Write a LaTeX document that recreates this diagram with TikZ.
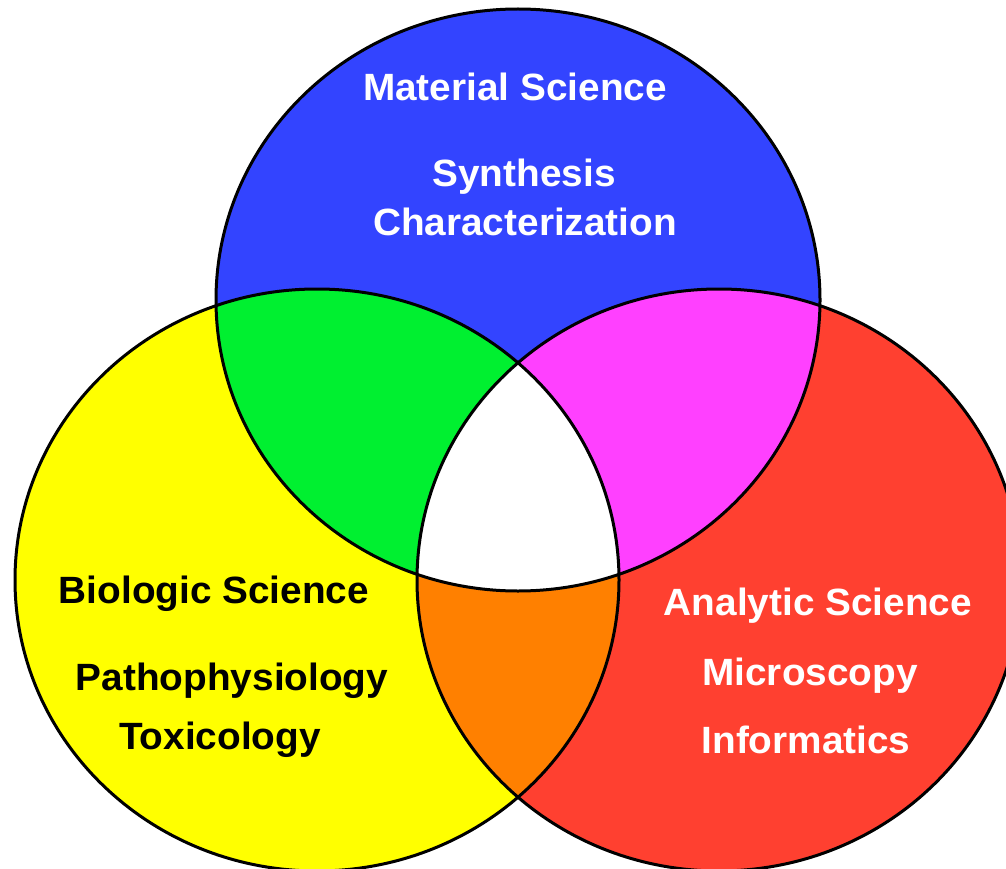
\documentclass[tikz,border=0pt]{standalone}
\usepackage{fontspec}
\setmainfont{Liberation Sans}
\definecolor{cblue}{RGB}{51,68,255}
\definecolor{cyellow}{RGB}{255,255,0}
\definecolor{cred}{RGB}{255,64,48}
\definecolor{cgreen}{RGB}{0,240,48}
\definecolor{cmagenta}{RGB}{255,64,255}
\definecolor{corange}{RGB}{255,128,0}
\tikzset{
  lbl/.style={anchor=base, inner sep=0pt, font=\fontsize{38}{40}\selectfont\bfseries, xscale=1.02},
  wlbl/.style={lbl, text=white},
  klbl/.style={lbl, text=black},
  rim/.style={draw=black, line width=3pt},
}
\begin{document}
\begin{tikzpicture}[x=1pt,y=-1pt]
\useasboundingbox (0,0) rectangle (1006,869);
\clip (0,0) rectangle (1006,869);
\coordinate (cT) at (518,300);
\coordinate (cL) at (317,580);
\coordinate (cR) at (719,580);
\def\topE{(cT) ellipse [x radius=302pt, y radius=291pt]}
\def\leftE{(cL) ellipse [x radius=302pt, y radius=291pt]}
\def\rightE{(cR) ellipse [x radius=302pt, y radius=291pt]}
% base fills
\fill[cblue] \topE;
\fill[cyellow] \leftE;
\fill[cred] \rightE;
% pairwise overlaps
\begin{scope}
  \clip \topE;
  \fill[cgreen] \leftE;
  \fill[cmagenta] \rightE;
\end{scope}
\begin{scope}
  \clip \leftE;
  \fill[corange] \rightE;
  \clip \rightE;
  \fill[white] \topE;
\end{scope}
% outlines
\draw[rim] \topE;
\draw[rim] \leftE;
\draw[rim] \rightE;
% labels
\node[wlbl] (m1) at (515,101) {Material Science};
\node[wlbl] (m2) at (524,187) {Synthesis};
\node[wlbl] (m3) at (525,235) {Characterization};
\node[klbl] (b1) at (214,603) {Biologic Science};
\node[klbl] (b2) at (232,690) {Pathophysiology};
\node[klbl] (b3) at (220,749) {Toxicology};
\node[wlbl] (a1) at (818,615) {Analytic Science};
\node[wlbl] (a2) at (810,685) {Microscopy};
\node[wlbl] (a3) at (806,753) {Informatics};
\end{tikzpicture}
\end{document}
